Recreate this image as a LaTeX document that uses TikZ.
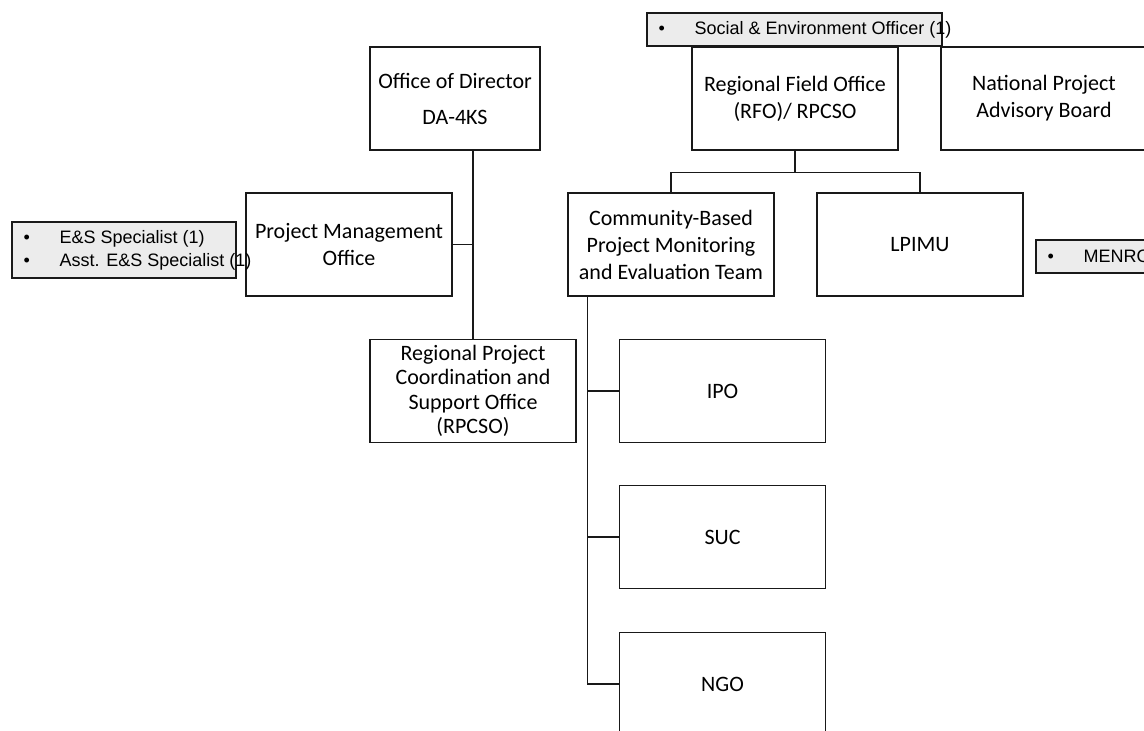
\documentclass[tikz,border=0pt]{standalone}
\usepackage{fontspec}
\setmainfont{Carlito}
\newfontfamily\arialfont{Liberation Sans}
\usetikzlibrary{positioning}

\tikzset{
  unit/.style={draw=black!90, line width=1.3pt, fill=white, minimum width=206pt,
    minimum height=103pt, inner sep=0pt, align=center, font=\fontsize{22}{27}\selectfont},
  note/.style={draw=black!90, line width=1.1pt, fill=gray!15, inner sep=0pt, minimum height=33pt},
  notetext/.style={anchor=west, inner sep=0pt, align=left, font=\arialfont\fontsize{18}{23}\selectfont},
  wire/.style={draw=black!90, line width=1.2pt}
}
\newcommand{\bulletitem}{\makebox[36pt][l]{•}}

\begin{document}
\begin{tikzpicture}[x=1pt,y=-1pt]
\useasboundingbox (0,0) rectangle (1144,731);
\clip (0,0) rectangle (1144,731);

% Top row
\node[unit, minimum width=170pt, font=\fontsize{22}{36}\selectfont] (dir) at (455,98.5) {Office of Director\\DA-4KS};
\node[unit] (rfo) at (795,98.5) {Regional Field Office\\(RFO)/ RPCSO};
\node[unit] (npab) at (1044,98.5) {National Project\\Advisory Board};

% Second row
\node[unit] (pmo) at (349,244.5) {Project Management\\Office};
\node[unit] (cbt) at (671,244.5) {Community-Based\\Project Monitoring\\and Evaluation Team};
\node[unit] (lpimu) at (920,244.5) {LPIMU};

% Regional office
\node[unit, font=\fontsize{22}{24.5}\selectfont] (rpcso) at (473,391) {Regional Project\\Coordination and\\Support Office\\(RPCSO)};

% Partners
\foreach \name/\txt/\y in {ipo/IPO/391, suc/SUC/537, ngo/NGO/684} {
  \node[unit] (\name) at (722.5,\y) {\txt};
}

% Wires
\draw[wire] (rpcso.north) -- (rpcso.north |- dir.south);
\draw[wire] (pmo.east) -- (pmo.east -| rpcso.north);
\draw[wire] (rfo.south) -- ++(0,22) coordinate (fork);
\draw[wire] (cbt.north) |- (fork) -| (lpimu.north);
\coordinate (trunk) at ([xshift=20pt]cbt.south west);
\draw[wire] (trunk) |- (ngo.west);
\foreach \name in {ipo,suc} {
  \draw[wire] (\name.west) -- (\name.west -| trunk);
}

% Staff notes
\node[note, minimum width=224pt, minimum height=56pt] (esnote) at (124,250) {};
\node[notetext] (estext) at ([xshift=12pt]esnote.west) {\bulletitem E\&S Specialist (1)\\\bulletitem Asst. E\&S Specialist (1)};
\node[note, minimum width=295pt] (seonote) at (794.5,29.5) {};
\node[notetext] (seotext) at ([xshift=12pt]seonote.west) {\bulletitem Social \& Environment Officer (1)};
\node[note, minimum width=164pt] (menronote) at (1118,256.5) {};
\node[notetext] (menrotext) at ([xshift=12pt]menronote.west) {\bulletitem MENRO};

\end{tikzpicture}
\end{document}
